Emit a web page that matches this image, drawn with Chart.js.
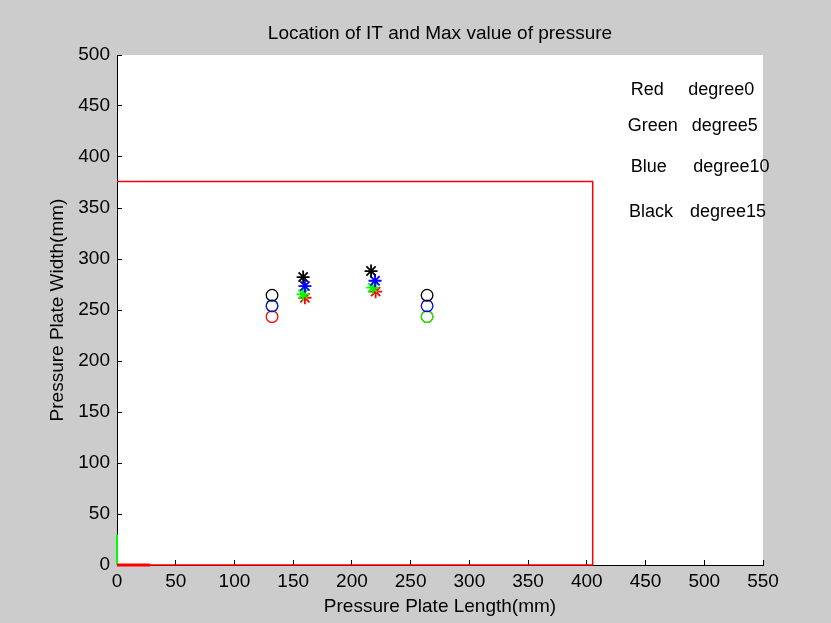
<!DOCTYPE html>
<html>
<head>
<meta charset="utf-8">
<script src="https://cdn.jsdelivr.net/npm/chart.js@4.4.1/dist/chart.umd.min.js"></script>
<style>
  body { margin: 0; background: #cccccc; }
  #wrap { width: 831px; height: 623px; }
</style>
</head>
<body>
<div id="wrap"><canvas id="plateChart" width="831" height="623"></canvas></div>
<script>
// order: red, green, blue, black (degree 0, 5, 10, 15)
const colorNames = ['Red', 'Green', 'Blue', 'Black'];
const degreeNames = ['degree0', 'degree5', 'degree10', 'degree15'];
const colors = ['#ff0000', '#00ff00', '#0000ff', '#000000'];

// location of IT (circles), two per angle
const itLeftX = [132, 132, 132, 132];
const itLeftY = [243.5, 254, 254, 264.5];
const itRightX = [264, 264, 264, 264];
const itRightY = [243.5, 243.5, 254, 264.5];

// max value of pressure (stars), two per angle
const maxLeftX = [160, 158.4, 160, 158.5];
const maxLeftY = [262, 265.4, 273.5, 282.3];
const maxRightX = [220.2, 217.7, 219.7, 216.3];
const maxRightY = [268, 271.9, 278.7, 288.2];

// plate outline and origin markers
const plateX = [0, 405, 405, 0];
const plateY = [376, 376, 0, 0];
const originXAxisX = [0, 28];
const originXAxisY = [0, 0];
const originYAxisX = [0, 0];
const originYAxisY = [0, 30];

// text notes (data coordinates)
const noteX = [437.4, 434.8, 437.4, 435.9];
const noteDegX = [486.4, 489.3, 490.7, 487.9];
const noteY = [465.7, 430.4, 390.5, 346.4];

const xTicks = [0, 50, 100, 150, 200, 250, 300, 350, 400, 450, 500, 550];
const yTicks = [0, 50, 100, 150, 200, 250, 300, 350, 400, 450, 500];

const pts = (xs, ys) => xs.map((x, i) => ({ x: x, y: ys[i] }));
const FONT = 'Liberation Sans, Arial, sans-serif';

// lower "order" is drawn on top
const datasets = [
    { data: pts(plateX, plateY), showLine: true, borderColor: '#ff0000', borderWidth: 1.5, pointRadius: 0, clip: false, order: 20 },
    { data: pts(originXAxisX, originXAxisY), showLine: true, borderColor: '#ff0000', borderWidth: 3, pointRadius: 0, clip: false, order: 19 },
    { data: pts(originYAxisX, originYAxisY), showLine: true, borderColor: '#00ff00', borderWidth: 2, pointRadius: 0, clip: false, order: 19 }
];

colors.forEach((c, i) => {
    datasets.push({
        data: [{ x: itLeftX[i], y: itLeftY[i] }, { x: itRightX[i], y: itRightY[i] }],
        pointStyle: 'circle', pointRadius: 5.8, borderColor: c, borderWidth: 1.3,
        backgroundColor: 'rgba(0,0,0,0)', order: 10 - i
    });
});
colors.forEach((c, i) => {
    datasets.push({
        data: [{ x: maxLeftX[i], y: maxLeftY[i] }, { x: maxRightX[i], y: maxRightY[i] }],
        pointStyle: 'star', pointRadius: 6.5, borderColor: c, borderWidth: 1.8,
        backgroundColor: c, order: 5 - i
    });
});

const whiteArea = {
    id: 'whiteArea',
    beforeDraw(chart) {
        const a = chart.chartArea;
        chart.ctx.save();
        chart.ctx.fillStyle = '#ffffff';
        chart.ctx.fillRect(a.left, a.top, a.right - a.left, a.bottom - a.top);
        chart.ctx.restore();
    }
};

const notes = {
    id: 'notes',
    afterDatasetsDraw(chart) {
        const ctx = chart.ctx;
        const sx = chart.scales.x, sy = chart.scales.y;
        ctx.save();
        ctx.font = '18px ' + FONT;
        ctx.fillStyle = '#000';
        ctx.textBaseline = 'middle';
        ctx.textAlign = 'left';
        colorNames.forEach((n, i) => {
            const y = sy.getPixelForValue(noteY[i]);
            ctx.fillText(n, sx.getPixelForValue(noteX[i]), y);
            ctx.fillText(degreeNames[i], sx.getPixelForValue(noteDegX[i]), y);
        });
        ctx.restore();
    }
};

new Chart(document.getElementById('plateChart'), {
    type: 'scatter',
    data: { datasets: datasets },
    options: {
        responsive: false,
        animation: false,
        events: [],
        layout: { padding: { top: 0, right: 68, bottom: 0, left: 0 } },
        plugins: {
            legend: { display: false },
            tooltip: { enabled: false },
            title: {
                display: true,
                text: 'Location of IT and Max value of pressure',
                fullSize: false,
                color: '#000',
                font: { family: FONT, size: 19, weight: 'normal' },
                padding: { top: 22, bottom: 10.2 }
            }
        },
        scales: {
            x: {
                type: 'linear', min: 0, max: 550,
                afterBuildTicks: s => { s.ticks = xTicks.map(v => ({ value: v })); },
                afterFit: s => { s.height = 58; },
                ticks: { color: '#000', padding: 10, font: { family: FONT, size: 19 } },
                grid: { drawOnChartArea: false, tickLength: -5, color: '#000' },
                border: { color: '#000', width: 1 },
                title: { display: true, text: 'Pressure Plate Length(mm)', color: '#000',
                    font: { family: FONT, size: 19 }, padding: { bottom: 5 } }
            },
            y: {
                type: 'linear', min: 0, max: 500,
                afterBuildTicks: s => { s.ticks = yTicks.map(v => ({ value: v })); },
                afterFit: s => { s.width = 117; },
                ticks: { color: '#000', padding: 12, font: { family: FONT, size: 19 } },
                grid: { drawOnChartArea: false, tickLength: -5, color: '#000' },
                border: { color: '#000', width: 1 },
                title: { display: true, text: 'Pressure Plate Width(mm)', color: '#000',
                    font: { family: FONT, size: 19 }, padding: { top: 46 } }
            }
        }
    },
    plugins: [whiteArea, notes]
});
</script>
</body>
</html>
